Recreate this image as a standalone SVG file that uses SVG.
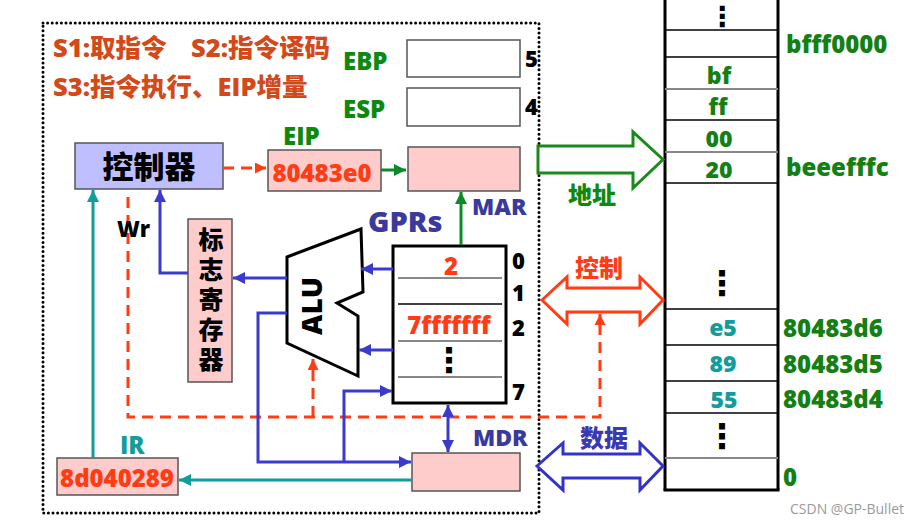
<svg xmlns="http://www.w3.org/2000/svg" width="922" height="523" viewBox="0 0 922 523">
<style>
text{font-family:"Open Sans","Noto Sans CJK SC",sans-serif;font-weight:800;dominant-baseline:central}
.step{fill:#d24a1a;font-size:25.5px}
.g{fill:#0d8a0d;font-size:24px}
.mg{fill:#148014;font-size:23px}
.ma{fill:#148014;font-size:24px}
.tl{fill:#139c9c;font-size:23px}
.bk{fill:#000;font-size:22px}
.bt{fill:#3a3a9c;font-size:23px}
.rv{fill:#ff3c14;font-size:24px}
.box{stroke:#555;stroke-width:1.5}
.pink{fill:#ffcccc}
.white{fill:#fff}
.bl{stroke:#3a3acc;stroke-width:3;fill:none}
.rd{stroke:#ff3c14;stroke-width:3;fill:none;stroke-dasharray:11 7}
.tc{stroke:#139c9c;stroke-width:3;fill:none}
.gr{stroke:#0a8a2a;stroke-width:3;fill:none}
.div{stroke:#000;stroke-width:1.5}
.divg{stroke:#888;stroke-width:2}
.ell{font-family:"DejaVu Sans",sans-serif;font-weight:bold;font-size:34px;fill:#000;text-anchor:middle}
.mid{text-anchor:middle}
</style>
<defs>
<marker id="ab" viewBox="0 0 10 10" refX="10" refY="5" markerWidth="12" markerHeight="12" markerUnits="userSpaceOnUse" orient="auto-start-reverse"><path d="M0,0 L10,5 L0,10 z" fill="#3a3acc"/></marker>
<marker id="ar" viewBox="0 0 10 10" refX="10" refY="5" markerWidth="11" markerHeight="11" markerUnits="userSpaceOnUse" orient="auto"><path d="M0,0 L10,5 L0,10 z" fill="#ff3c14"/></marker>
<marker id="ag" viewBox="0 0 10 10" refX="10" refY="5" markerWidth="12" markerHeight="12" markerUnits="userSpaceOnUse" orient="auto"><path d="M0,0 L10,5 L0,10 z" fill="#0a8a2a"/></marker>
<marker id="at" viewBox="0 0 10 10" refX="10" refY="5" markerWidth="12" markerHeight="12" markerUnits="userSpaceOnUse" orient="auto"><path d="M0,0 L10,5 L0,10 z" fill="#139c9c"/></marker>
</defs>
<rect width="922" height="523" fill="#fff"/>

<!-- CPU frame -->
<rect x="43" y="23" width="496" height="490" fill="none" stroke="#000" stroke-width="3" stroke-linecap="round" stroke-dasharray="0 4.6"/>

<text class="step" x="53" y="47">S1:取指令</text>
<text class="step" x="191" y="47">S2:指令译码</text>
<text class="step" x="53" y="86">S3:指令执行、EIP增量</text>

<g id="ebp">
<text class="g" x="343" y="60">EBP</text>
<rect class="box white" x="407" y="40" width="113" height="37"/>
<text class="bk" x="525" y="58">5</text>
</g>
<g id="esp">
<text class="g" x="343" y="108">ESP</text>
<rect class="box white" x="407" y="88" width="113" height="38"/>
<text class="bk" x="525" y="106">4</text>
</g>

<g id="controller">
<rect class="box" x="75" y="143" width="148" height="46" fill="#bfbfff"/>
<text class="mid" x="149" y="166" font-size="31" fill="#000">控制器</text>
</g>

<g id="eip">
<text class="g" x="283" y="135">EIP</text>
<rect class="box pink" x="268" y="150" width="113" height="41"/>
<text class="rv mid" x="322" y="172">80483e0</text>
</g>

<g id="mar">
<rect class="box pink" x="408" y="147" width="112" height="44"/>
<text class="bt" x="472" y="206">MAR</text>
</g>

<g id="gprs">
<text x="368" y="220" font-size="29" fill="#3a3a9c">GPRs</text>
<rect x="393" y="246" width="113" height="157" fill="#fff" stroke="#000" stroke-width="3"/>
<line class="divg" x1="398" y1="278" x2="502" y2="278"/>
<line class="div" x1="398" y1="304" x2="502" y2="304"/>
<line class="divg" x1="398" y1="341" x2="502" y2="341"/>
<line class="divg" x1="398" y1="377" x2="502" y2="377"/>
<text class="rv mid" x="451" y="265">2</text>
<text class="rv mid" x="449" y="324">7fffffff</text>
<text class="ell" x="449" y="360">⋮</text>
<text class="bk" x="512" y="260">0</text>
<text class="bk" x="512" y="292">1</text>
<text class="bk" x="512" y="327">2</text>
<text class="bk" x="512" y="391">7</text>
</g>

<g id="alu">
<polygon points="287,257 361,229 363,292 337,303 358,316 358,376 287,343" fill="#fff" stroke="#000" stroke-width="3" stroke-linejoin="miter"/>
<text class="mid" x="0" y="0" font-size="28" fill="#000" transform="translate(311,306) rotate(-90)">ALU</text>
</g>

<g id="flags">
<rect class="box pink" x="188" y="219" width="44" height="163"/>
<text x="210" y="227" font-size="25" fill="#000" writing-mode="tb" letter-spacing="5">标志寄存器</text>
</g>

<g id="mdr">
<rect class="box pink" x="412" y="453" width="108" height="38"/>
<text class="bt" x="473" y="437">MDR</text>
</g>

<g id="ir">
<text x="120" y="444" font-size="24" fill="#139c9c">IR</text>
<rect class="box pink" x="57" y="458" width="121" height="37"/>
<text class="rv mid" x="117" y="477">8d040289</text>
</g>

<g id="memory">
<line x1="665" y1="-2" x2="665" y2="490" stroke="#000" stroke-width="3"/>
<line x1="778" y1="-2" x2="778" y2="490" stroke="#000" stroke-width="3"/>
<line x1="663.5" y1="490" x2="779.5" y2="490" stroke="#000" stroke-width="3"/>
<line class="div" x1="665" y1="30" x2="778" y2="30"/>
<line class="div" x1="665" y1="57" x2="778" y2="57"/>
<line class="divg" x1="665" y1="89" x2="778" y2="89"/>
<line class="div" x1="665" y1="120" x2="778" y2="120"/>
<line class="divg" x1="665" y1="152" x2="778" y2="152"/>
<line class="div" x1="665" y1="183" x2="778" y2="183"/>
<line class="div" x1="665" y1="309" x2="778" y2="309"/>
<line class="div" x1="665" y1="345" x2="778" y2="345"/>
<line class="div" x1="665" y1="381" x2="778" y2="381"/>
<line class="div" x1="665" y1="413" x2="778" y2="413"/>
<line class="divg" x1="665" y1="458" x2="778" y2="458"/>
<text class="ell" x="722" y="26" font-size="28" style="dominant-baseline:alphabetic;font-size:28px">⋮</text>
<text class="mg mid" x="719" y="75">bf</text>
<text class="mg mid" x="718" y="106">ff</text>
<text class="mg mid" x="719" y="138">00</text>
<text class="mg mid" x="719" y="169">20</text>
<text class="ell" x="722" y="283">⋮</text>
<text class="tl mid" x="723" y="327">e5</text>
<text class="tl mid" x="723" y="363">89</text>
<text class="tl mid" x="724" y="399">55</text>
<text class="ell" x="722" y="436">⋮</text>
<text class="ma" x="786" y="43">bfff0000</text>
<text class="ma" x="786" y="166">beeefffc</text>
<text class="ma" x="783" y="327">80483d6</text>
<text class="ma" x="783" y="363">80483d5</text>
<text class="ma" x="783" y="398">80483d4</text>
<text class="ma" x="783" y="476">0</text>
</g>

<g id="bus-address">
<polygon points="538,146 633,146 633,132 663,159.5 633,188 633,173 538,173" fill="#fff" stroke="#1a8a1a" stroke-width="3"/>
<text class="g mid" x="592" y="194">地址</text>
</g>
<g id="bus-control">
<polygon points="542,300 567,277 567,288 640,288 640,277 663,300 640,324 640,312 567,312 567,324" fill="#fff" stroke="#ff3c14" stroke-width="3"/>
<text class="mid" x="599" y="267" font-size="24" fill="#ff3c14">控制</text>
</g>
<g id="bus-data">
<polygon points="537,466 563,443 563,454 640,454 640,443 663,466 640,490 640,478 563,478 563,490" fill="#fff" stroke="#3333cc" stroke-width="3"/>
<text class="mid" x="604" y="437" font-size="24" fill="#3a3ab0">数据</text>
</g>

<g id="connectors">
<line class="rd" x1="223" y1="168" x2="266" y2="168" marker-end="url(#ar)"/>
<line class="gr" x1="381" y1="170" x2="406" y2="170" marker-end="url(#ag)"/>
<line class="gr" x1="461" y1="245" x2="461" y2="192" marker-end="url(#ag)" stroke="#0a8a0a"/>
<line class="bl" x1="393" y1="269" x2="361" y2="269" marker-end="url(#ab)"/>
<line class="bl" x1="393" y1="350" x2="359" y2="350" marker-end="url(#ab)"/>
<line class="bl" x1="287" y1="278" x2="233" y2="278" marker-end="url(#ab)"/>
<polyline class="bl" points="188,273 160,273 160,190" marker-end="url(#ab)"/>
<line class="tc" x1="93" y1="458" x2="93" y2="190" marker-end="url(#at)"/>
<polyline class="rd" points="128,197 128,417 600,417 600,314" marker-end="url(#ar)"/>
<line class="rd" x1="313" y1="417" x2="313" y2="359" marker-end="url(#ar)"/>
<polyline class="bl" points="287,313 258,313 258,462 411,462" marker-end="url(#ab)"/>
<polyline class="bl" points="344,462 344,391 392,391" marker-end="url(#ab)"/>
<line class="bl" x1="448" y1="405" x2="448" y2="452" marker-start="url(#ab)" marker-end="url(#ab)"/>
<line class="tc" x1="412" y1="480" x2="179" y2="480" marker-end="url(#at)"/>
</g>
<text x="117" y="228" font-size="22" fill="#000">Wr</text>

<text x="790" y="508" font-size="14" fill="#9a9a9a" style="font-weight:normal">CSDN @GP-Bullet</text>
</svg>
